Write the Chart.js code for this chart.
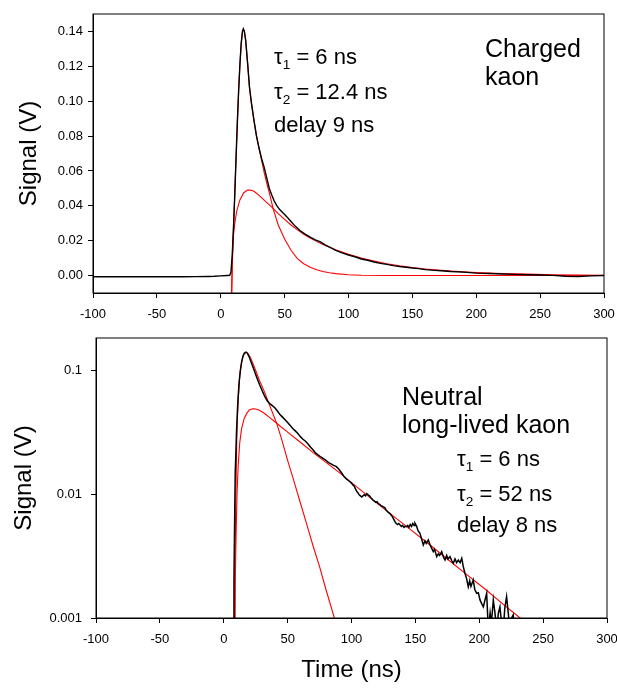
<!DOCTYPE html>
<html>
<head>
<meta charset="utf-8">
<script src="https://cdn.jsdelivr.net/npm/chart.js@4.4.1/dist/chart.umd.min.js"></script>
<style>
  body { margin: 0; background: #fff; font-family: "Liberation Sans", Arial, sans-serif; }
  #wrap { position: relative; width: 617px; height: 688px; }
  canvas { position: absolute; left: 0; }
  .note { position: absolute; white-space: nowrap; color: #000; line-height: 1; }
  .note sub { font-size: 0.62em; vertical-align: -0.35em; line-height: 0; }
</style>
</head>
<body>
<div id="wrap">
  <canvas id="topChart" width="617" height="330" style="top:0"></canvas>
  <canvas id="bottomChart" width="617" height="358" style="top:330px"></canvas>

  <div class="note" style="left:274px; top:46px; font-size:22px">&tau;<sub>1</sub> = 6 ns</div>
  <div class="note" style="left:274px; top:81px; font-size:22px">&tau;<sub>2</sub> = 12.4 ns</div>
  <div class="note" style="left:274px; top:114px; font-size:22px">delay 9 ns</div>
  <div class="note" style="left:485px; top:36px; font-size:25px">Charged</div>
  <div class="note" style="left:485px; top:64px; font-size:25px">kaon</div>

  <div class="note" style="left:402px; top:384px; font-size:25px">Neutral</div>
  <div class="note" style="left:402px; top:412px; font-size:25px">long-lived kaon</div>
  <div class="note" style="left:457px; top:448px; font-size:22px">&tau;<sub>1</sub> = 6 ns</div>
  <div class="note" style="left:457px; top:483px; font-size:22px">&tau;<sub>2</sub> = 52 ns</div>
  <div class="note" style="left:457px; top:514px; font-size:22px">delay 8 ns</div>
</div>

<script>
// Tick values
var xTicks = [-100, -50, 0, 50, 100, 150, 200, 250, 300];
var topYTicks = [0, 0.02, 0.04, 0.06, 0.08, 0.10, 0.12, 0.14];
var bottomYTicks = [0.001, 0.01, 0.1];

// Charged kaon - measured signal (black)
var topTime = [-100, -90, -80, -70, -60, -50, -40, -30, -20, -10, -5, 0, 5, 7, 8, 9, 10, 11, 12, 13, 14, 15, 16, 17, 17.7, 18.5, 19.5, 21, 22.5, 24, 26, 28, 30, 32, 34, 36, 38, 40, 42, 44, 46, 48, 50, 52, 55, 58, 62, 66, 70, 74, 78, 82, 86, 90, 95, 100, 105, 110, 115, 120, 125, 130, 135, 140, 145, 150, 155, 160, 165, 170, 175, 180, 185, 190, 195, 200, 210, 220, 230, 240, 250, 260, 270, 280, 290, 300];
var topSignal = [-0.0007, -0.0006, -0.0007, -0.0006, -0.0007, -0.0007, -0.0006, -0.0007, -0.0006, -0.0005, -0.0004, -0.0002, 0.0000, 0.0001, 0.002, 0.012, 0.028, 0.047, 0.068, 0.088, 0.106, 0.121, 0.133, 0.140, 0.1414, 0.140, 0.135, 0.122, 0.108, 0.099, 0.089, 0.080, 0.073, 0.067, 0.062, 0.056, 0.050, 0.046, 0.0425, 0.040, 0.038, 0.0365, 0.035, 0.0335, 0.031, 0.0285, 0.0258, 0.0238, 0.022, 0.0205, 0.0193, 0.0175, 0.016, 0.0145, 0.013, 0.0118, 0.0108, 0.0095, 0.0088, 0.0078, 0.007, 0.0064, 0.0057, 0.0052, 0.0048, 0.0043, 0.0040, 0.0034, 0.0031, 0.0029, 0.0026, 0.0023, 0.0022, 0.0020, 0.0017, 0.0014, 0.0012, 0.0009, 0.0007, 0.0005, 0.0003, 0.0001, -0.0004, -0.0005, -0.0002, 0.0000];

// Charged kaon - fast fit component (red)
var topFastTime = [8, 8.8, 10, 11, 12, 13, 14, 15, 16, 17, 17.7, 18.5, 19.5, 21, 22.5, 24, 26, 28, 30, 32, 34, 36, 38, 41.1, 45, 50, 55, 60, 65, 70, 75, 80, 85, 90, 100, 110, 130, 300];
var topFast = [-0.02, 0.0, 0.028, 0.047, 0.068, 0.088, 0.106, 0.121, 0.133, 0.140, 0.1415, 0.140, 0.135, 0.122, 0.108, 0.099, 0.089, 0.080, 0.073, 0.066, 0.059, 0.053, 0.0475, 0.0381, 0.029, 0.021, 0.0145, 0.0097, 0.0068, 0.0048, 0.0033, 0.0023, 0.0016, 0.0011, 0.0005, 0.0002, 0.0, 0.0];

// Charged kaon - slow fit component (red)
var topSlowTime = [8.5, 9, 9.8, 11, 12.5, 15, 18, 21, 23, 26, 30, 35, 40, 45, 50, 55, 60, 65, 70, 75, 80, 90, 100, 110, 120, 130, 140, 150, 160, 170, 180, 190, 200, 220, 240, 260, 280, 300];
var topSlow = [-0.02, 0.008, 0.022, 0.030, 0.037, 0.0434, 0.0475, 0.049, 0.0491, 0.0483, 0.046, 0.0425, 0.0392, 0.0355, 0.0322, 0.029, 0.0262, 0.0237, 0.0215, 0.0196, 0.0178, 0.0148, 0.0122, 0.0100, 0.0083, 0.0068, 0.0056, 0.0046, 0.0038, 0.0031, 0.0026, 0.0021, 0.0017, 0.0012, 0.0008, 0.0005, 0.0003, 0.0002];

// Neutral long-lived kaon - measured signal (black)
var bottomTime = [7.5, 8, 8.5, 9, 10, 11, 12, 13, 14, 15, 16, 17.4, 18.5, 20, 22, 24, 26, 28, 30, 32, 34, 36, 38, 40, 42, 44, 46, 48, 50, 52, 54, 56, 58, 60, 62, 64, 66, 68, 70, 72, 74, 76, 78, 80, 82, 84, 86, 88, 90, 92, 94, 96, 98,
    100, 101, 102, 103, 104, 105, 106, 107, 108, 109, 110, 111, 112, 113, 114, 115, 116, 117, 118, 119, 120, 121, 122, 123, 124, 125, 126, 127, 128, 129, 130, 131, 132, 133, 134, 135, 136, 137, 138, 139, 140, 141, 142, 143, 144, 145, 146, 147, 148, 149, 149.7, 151, 152, 153.6, 155, 156.2, 157.5, 158.5, 160.1, 161.5, 162.5, 164, 165, 166.7, 168, 169, 170.6, 172, 173.2, 174.5, 175.5, 177.1, 178.5, 179.7, 181, 182.3, 183.6, 185, 186.3, 187.5, 188.8, 190, 191.4, 192.5, 193.5, 195.3, 196.5, 198, 199.3, 200.6, 202, 203.2, 204.5, 205.8, 207.1, 208.5, 209.5, 211, 212.3, 213.6, 215, 216.2, 217.5, 218.8, 220, 221.4, 222.7, 224, 225.3, 226.6, 228];
var bottomSignal = [0.0005, 0.002, 0.006, 0.015, 0.032, 0.055, 0.080, 0.100, 0.117, 0.130, 0.138, 0.1406, 0.138, 0.128, 0.113, 0.099, 0.087, 0.077, 0.069, 0.062, 0.057, 0.054, 0.052, 0.050, 0.047, 0.044, 0.042, 0.040, 0.038, 0.036, 0.034, 0.0325, 0.031, 0.0292, 0.0278, 0.0268, 0.0255, 0.0240, 0.0228, 0.0215, 0.0207, 0.0200, 0.0194, 0.0188, 0.0180, 0.0176, 0.0171, 0.0168, 0.0160, 0.0150, 0.0140, 0.0133, 0.0128,
    0.0123, 0.0119, 0.0117, 0.0111, 0.0106, 0.0103, 0.0099, 0.0097, 0.0095, 0.0097, 0.0099, 0.0097, 0.0101, 0.0099, 0.0097, 0.0094, 0.0092, 0.0089, 0.0088, 0.0086, 0.0087, 0.0084, 0.0083, 0.0081, 0.0080, 0.0079, 0.0078, 0.0075, 0.0073, 0.0071, 0.0070, 0.0068, 0.0066, 0.0063, 0.0060, 0.0058, 0.0057, 0.0058, 0.00565, 0.0055, 0.0056, 0.0054, 0.0055, 0.00547, 0.0056, 0.0054, 0.0057, 0.0055, 0.0058, 0.0056, 0.00583, 0.0055, 0.0051, 0.00484, 0.0043, 0.00389, 0.0042, 0.0040, 0.00427, 0.0039, 0.0037, 0.00344, 0.0036, 0.00313, 0.0033, 0.0032, 0.00344, 0.0031, 0.00294, 0.0032, 0.0030, 0.00313, 0.0029, 0.00277, 0.0030, 0.0028, 0.00294, 0.0028, 0.00304, 0.0026, 0.0023, 0.0021, 0.00179, 0.0020, 0.0018, 0.00203, 0.0017, 0.00158, 0.0016, 0.0014, 0.0013, 0.00123, 0.0014, 0.00158, 0.0008, 0.0011, 0.0009, 0.0014, 0.0011, 0.0008, 0.0011, 0.00123, 0.0009, 0.0008, 0.0012, 0.00149, 0.0011, 0.0008, 0.0010, 0.00106, 0.0007];

// Neutral long-lived kaon - fast fit component (red)
var bottomFastTime = [8.3, 8.8, 9.3, 10, 10.6, 11.5, 12.7, 14, 15.5, 17.4, 19, 21, 23, 25, 28, 32.3, 36, 41.4, 45, 50, 55, 60, 65, 70, 75, 80, 86.6, 90];
var bottomFast = [0.0005, 0.002, 0.007, 0.022, 0.04, 0.062, 0.095, 0.118, 0.134, 0.1406, 0.137, 0.127, 0.113, 0.100, 0.083, 0.0656, 0.052, 0.0375, 0.0285, 0.0188, 0.0127, 0.0085, 0.0057, 0.0038, 0.0026, 0.0017, 0.001, 0.0008];

// Neutral long-lived kaon - slow fit component (red)
var bottomSlowTime = [8.5, 9, 9.7, 10.4, 11.3, 12.5, 14, 16, 18, 20, 22.6, 25, 28, 32, 36, 41.4, 50, 60, 70, 80, 91, 100, 115, 130, 145, 160, 175, 190, 205, 220, 232, 236];
var bottomSlow = [0.0008, 0.002, 0.005, 0.010, 0.017, 0.026, 0.034, 0.041, 0.045, 0.048, 0.049, 0.0488, 0.0477, 0.0449, 0.0416, 0.0375, 0.0318, 0.0263, 0.0217, 0.0181, 0.0148, 0.0124, 0.0093, 0.0070, 0.0053, 0.0040, 0.0030, 0.00225, 0.0017, 0.00126, 0.001, 0.0009];

function toPoints(xs, ys) {
    var pts = [];
    for (var i = 0; i < xs.length; i++) {
        pts.push({ x: xs[i], y: ys[i] });
    }
    return pts;
}

var fontFamily = '"Liberation Sans", Arial, sans-serif';

// Draws the box round the plot area
var frameBox = {
    id: 'frameBox',
    afterDraw: function(chart) {
        var a = chart.chartArea;
        var ctx = chart.ctx;
        ctx.save();
        ctx.strokeStyle = '#000';
        ctx.lineWidth = 1;
        ctx.strokeRect(a.left, a.top, a.right - a.left, a.bottom - a.top);
        ctx.restore();
    }
};

function makeDataset(points, color, width) {
    return {
        data: points,
        borderColor: color,
        borderWidth: width,
        pointRadius: 0,
        tension: 0,
        fill: false
    };
}

function xAxis(height, withTitle) {
    return {
        type: 'linear',
        min: -100,
        max: 300,
        afterBuildTicks: function(scale) {
            scale.ticks = xTicks.map(function(v) { return { value: v }; });
        },
        afterFit: function(scale) {
            scale.height = height;
            scale.paddingLeft = 0;
            scale.paddingRight = 0;
        },
        grid: { drawOnChartArea: false, drawTicks: true, tickLength: 5, color: '#000' },
        border: { display: true, color: '#000', width: 1 },
        ticks: {
            color: '#000',
            padding: 9,
            maxRotation: 0,
            font: { family: fontFamily, size: 13 },
            callback: function(v) { return String(v); }
        },
        title: {
            display: withTitle,
            text: 'Time (ns)',
            color: '#000',
            font: { family: fontFamily, size: 24 },
            padding: { top: 0, bottom: 3 }
        }
    };
}

Chart.defaults.devicePixelRatio = 1;

// Top chart: charged kaon, linear scale
new Chart(document.getElementById('topChart').getContext('2d'), {
    type: 'line',
    data: {
        datasets: [
            makeDataset(toPoints(topTime, topSignal), '#000000', 1.4),
            makeDataset(toPoints(topFastTime, topFast), '#ff0000', 1.1),
            makeDataset(toPoints(topSlowTime, topSlow), '#ff0000', 1.1)
        ]
    },
    options: {
        responsive: false,
        animation: false,
        layout: { padding: { top: 14, right: 13, left: 0, bottom: 0 } },
        plugins: { legend: { display: false }, tooltip: { enabled: false } },
        scales: {
            x: xAxis(37, false),
            y: {
                type: 'linear',
                min: -0.01,
                max: 0.15,
                afterBuildTicks: function(scale) {
                    scale.ticks = topYTicks.map(function(v) { return { value: v }; });
                },
                afterFit: function(scale) {
                    scale.width = 93;
                    scale.paddingTop = 0;
                    scale.paddingBottom = 0;
                },
                grid: { drawOnChartArea: false, drawTicks: true, tickLength: 5, color: '#000' },
                border: { display: true, color: '#000', width: 1 },
                ticks: {
                    color: '#000',
                    padding: 5,
                    font: { family: fontFamily, size: 13 },
                    callback: function(v) { return v.toFixed(2); }
                },
                title: {
                    display: true,
                    text: 'Signal (V)',
                    color: '#000',
                    font: { family: fontFamily, size: 24 },
                    padding: { top: 15, bottom: 0 }
                }
            }
        }
    },
    plugins: [frameBox]
});

// Bottom chart: neutral long-lived kaon, log scale
new Chart(document.getElementById('bottomChart').getContext('2d'), {
    type: 'line',
    data: {
        datasets: [
            makeDataset(toPoints(bottomTime, bottomSignal), '#000000', 1.5),
            makeDataset(toPoints(bottomFastTime, bottomFast), '#ff0000', 1.1),
            makeDataset(toPoints(bottomSlowTime, bottomSlow), '#ff0000', 1.1)
        ]
    },
    options: {
        responsive: false,
        animation: false,
        layout: { padding: { top: 8, right: 10, left: 0, bottom: 0 } },
        plugins: { legend: { display: false }, tooltip: { enabled: false } },
        scales: {
            x: xAxis(70, true),
            y: {
                type: 'logarithmic',
                min: 0.001,
                max: 0.183,
                afterBuildTicks: function(scale) {
                    scale.ticks = bottomYTicks.map(function(v) { return { value: v }; });
                },
                afterFit: function(scale) {
                    scale.width = 96;
                    scale.paddingTop = 0;
                    scale.paddingBottom = 0;
                },
                grid: { drawOnChartArea: false, drawTicks: true, tickLength: 5, color: '#000' },
                border: { display: true, color: '#000', width: 1 },
                ticks: {
                    color: '#000',
                    padding: 9,
                    font: { family: fontFamily, size: 13 },
                    callback: function(v) { return String(v); }
                },
                title: {
                    display: true,
                    text: 'Signal (V)',
                    color: '#000',
                    font: { family: fontFamily, size: 24 },
                    padding: { top: 10, bottom: 0 }
                }
            }
        }
    },
    plugins: [frameBox]
});
</script>
</body>
</html>
